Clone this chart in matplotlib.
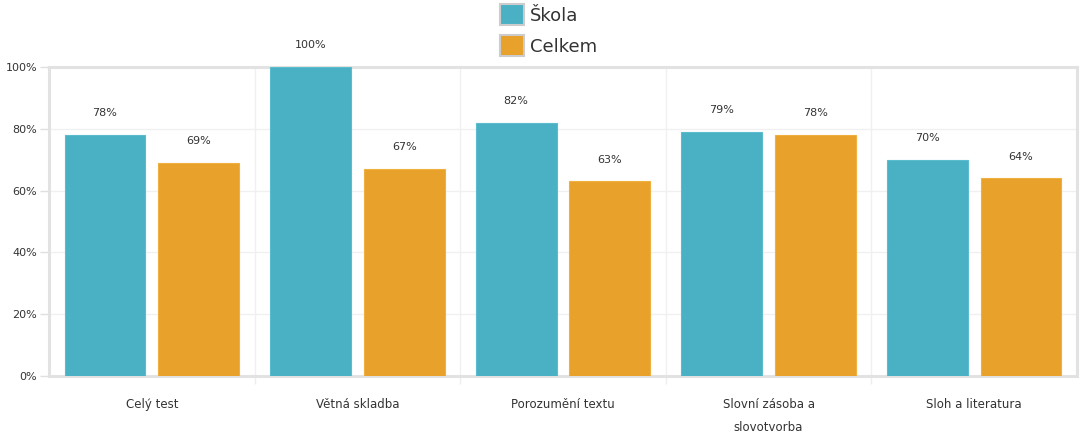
import matplotlib
matplotlib.use("Agg")
import matplotlib.pyplot as plt
import numpy as np
from matplotlib.patches import Patch

categories = ["Celý test", "Větná skladba", "Porozumění textu", "Slovní zásoba a\nslovotvorba", "Sloh a literatura"]
skola = [78, 100, 82, 79, 70]
celkem = [69, 67, 63, 78, 64]
series_names = ["Škola", "Celkem"]
yticks = [0, 20, 40, 60, 80, 100]

c_skola = "#4AB0C4"
c_celkem = "#E8A12A"
txt = "#333333"

fig = plt.figure(figsize=(10.82, 4.36), dpi=100)
ax = fig.add_axes([49/1082, 60/436, (1077-49)/1082, (376-67)/436])

x = np.arange(len(categories))
w = 0.393
off = 0.228
ax.bar(x - off, skola, w, color=c_skola, edgecolor="#5BBCCE", linewidth=0.8, zorder=3)
ax.bar(x + off, celkem, w, color=c_celkem, edgecolor="#F0B040", linewidth=0.8, zorder=3)

for xi, v in zip(x - off, skola):
    ax.text(xi, v + 7, f"{v}%", ha="center", va="center", fontsize=8, color=txt)
for xi, v in zip(x + off, celkem):
    ax.text(xi, v + 7, f"{v}%", ha="center", va="center", fontsize=8, color=txt)

ax.set_xlim(-0.5, len(categories) - 0.5)
ax.set_ylim(0, 100)
ax.set_yticks(yticks)
ax.set_yticklabels([f"{t}%" for t in yticks], fontsize=8, color=txt)
ax.yaxis.grid(True, color="#F0F0F0", linewidth=1, zorder=0)

ax.set_xticks(x)
ax.set_xticklabels(categories, fontsize=8.5, color=txt, va="top", linespacing=1.95)
ax.tick_params(axis="x", length=0, pad=16)
ax.set_xticks(np.arange(0.5, len(categories) - 0.5, 1), minor=True)
ax.tick_params(axis="x", which="minor", length=6, color="#EEEEEE", width=1)
for s in np.arange(0.5, len(categories) - 0.5, 1):
    ax.axvline(s, color="#F0F0F0", linewidth=1, zorder=1)
ax.tick_params(axis="y", length=6.5, color="#E0E0E0", width=1, pad=2)

for sp in ax.spines.values():
    sp.set_color("#E2E2E2")
    sp.set_linewidth(2.2)

handles = [Patch(facecolor=c_skola, edgecolor="#CCCCCC", linewidth=1.5),
           Patch(facecolor=c_celkem, edgecolor="#CCCCCC", linewidth=1.5)]
fig.legend(handles, series_names, loc="upper left", bbox_to_anchor=(484/1082, 1.027),
           frameon=False, fontsize=13, handlelength=1.3, handleheight=1.4,
           handletextpad=0.35, labelspacing=0.55, labelcolor="#333333")

fig.savefig("out.png", dpi=100)
